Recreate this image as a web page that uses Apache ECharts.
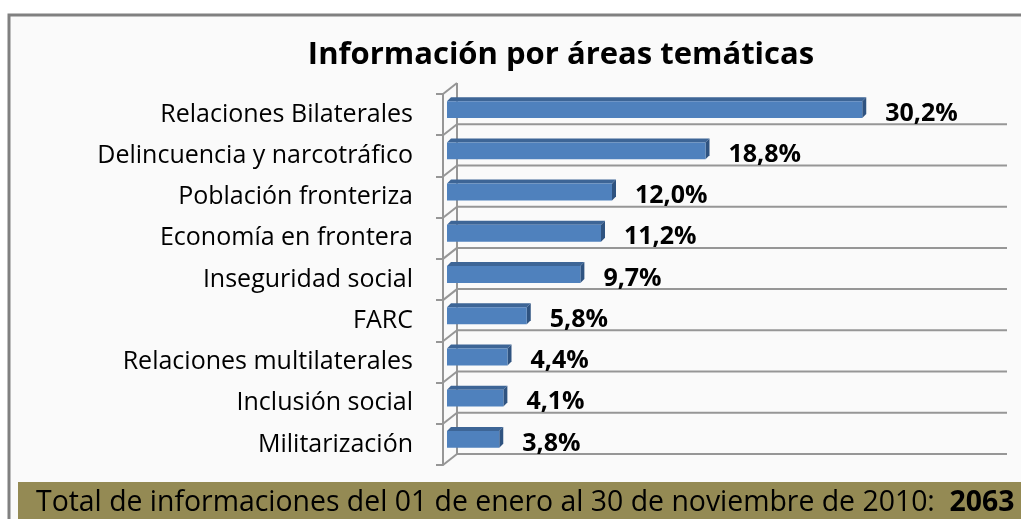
<!DOCTYPE html>
<html>
<head>
<meta charset="utf-8">
<script src="https://cdn.jsdelivr.net/npm/echarts@6/dist/echarts.min.js"></script>
<style>html,body{margin:0;padding:0;background:#fff}#c{width:1021px;height:519px}</style>
</head>
<body>
<div id="c"></div>
<script>
const categories = ['Relaciones Bilaterales', 'Delincuencia y narcotráfico', 'Población fronteriza', 'Economía en frontera', 'Inseguridad social', 'FARC', 'Relaciones multilaterales', 'Inclusión social', 'Militarización'];
const values = [30.2, 18.8, 12.0, 11.2, 9.7, 5.8, 4.4, 4.1, 3.8];
const axisMax = 40;
const titleText = 'Información por áreas temáticas';
const footerText = 'Total de informaciones del 01 de enero al 30 de noviembre de 2010:';
const footerTotal = '2063';

const FONT = '"Open Sans"';
const WALL_DX = 14, WALL_DY = -11;   // back wall offset from front plane
const BAR_DX = 4, BAR_DY = -5;       // bar front face offset from front plane
const DEP_X = 4, DEP_Y = -4;         // bar depth
const LINE = '#969696';

const fmt = v => v.toFixed(1).replace('.', ',') + '%';

const chart = echarts.init(document.getElementById('c'), null, {renderer: 'canvas'});

function renderWalls(params, api) {
  const band = api.size([0, 1])[1];
  const c0 = api.coord([0, 0]);
  const cMax = api.coord([axisMax, 0]);
  const fx = c0[0];
  const top = c0[1] - band / 2;
  const n = categories.length;
  const children = [];
  const bx = fx + WALL_DX;
  children.push({type: 'line', shape: {x1: bx, y1: top + WALL_DY, x2: bx, y2: top + n * band + WALL_DY}, style: {stroke: LINE, lineWidth: 2}});
  for (let k = 0; k <= n; k++) {
    const fy = top + k * band;
    children.push({type: 'line', shape: {x1: fx, y1: fy, x2: bx, y2: fy + WALL_DY}, style: {stroke: LINE, lineWidth: 2}});
    if (k > 0) {
      children.push({type: 'line', shape: {x1: bx, y1: fy + WALL_DY, x2: cMax[0] + WALL_DX, y2: fy + WALL_DY}, style: {stroke: LINE, lineWidth: 2}});
    }
  }
  return {type: 'group', children};
}

function renderBar(params, api) {
  const idx = api.value(0);
  const val = api.value(1);
  const band = api.size([0, 1])[1];
  const p0 = api.coord([0, idx]);
  const p1 = api.coord([val, idx]);
  const h = band * 0.41;
  const x0 = p0[0] + BAR_DX, x1 = p1[0] + BAR_DX;
  const yc = p0[1] + BAR_DY;
  const t = yc - h / 2, b = yc + h / 2;
  return {
    type: 'group',
    children: [
      {type: 'polygon', shape: {points: [[x0, t], [x1, t], [x1 + DEP_X, t + DEP_Y], [x0 + DEP_X, t + DEP_Y]]}, style: {fill: '#3d6596'}},
      {type: 'polygon', shape: {points: [[x1, t], [x1 + DEP_X, t + DEP_Y], [x1 + DEP_X, b + DEP_Y], [x1, b]]}, style: {fill: '#2f5380'}},
      {type: 'rect', shape: {x: x0, y: t, width: x1 - x0, height: h}, style: {fill: '#4f81bd'}},
      {type: 'text', x: x1 + DEP_X + 19, y: yc + 4, style: {text: fmt(val), fill: '#000', font: 'bold 25px ' + FONT, textAlign: 'left', textVerticalAlign: 'middle'}}
    ]
  };
}

chart.setOption({
  backgroundColor: '#ffffff',
  animation: false,
  title: {
    text: titleText, left: 556, top: 35, textAlign: 'center',
    textStyle: {fontFamily: FONT, fontWeight: 'bold', fontSize: 31, color: '#000'}
  },
  graphic: [
    {type: 'rect', z: -10, shape: {x: 9, y: 15, width: 1100, height: 600}, style: {fill: '#fafafa', stroke: '#808080', lineWidth: 3}},
    {type: 'rect', z: -5, shape: {x: 18, y: 482, width: 1010, height: 40}, style: {fill: '#948a54'}},
    {type: 'text', z: -4, x: 36, y: 503, style: {
      text: '{a|' + footerText + '  }{b|' + footerTotal + '}',
      textVerticalAlign: 'middle',
      rich: {
        a: {fontFamily: FONT, fontSize: 28.4, fill: '#000', color: '#000'},
        b: {fontFamily: FONT, fontSize: 28.4, fontWeight: 'bold', fill: '#000', color: '#000'}
      }
    }}
  ],
  grid: {left: 443, top: 94, right: 28, bottom: 54, containLabel: false},
  xAxis: {type: 'value', min: 0, max: axisMax, show: false, splitLine: {show: false}},
  yAxis: {
    type: 'category', data: categories, inverse: true,
    axisLine: {show: true, lineStyle: {color: LINE, width: 2}},
    axisTick: {show: true, length: 7, lineStyle: {color: LINE, width: 2}},
    axisLabel: {margin: 30, fontFamily: FONT, fontSize: 25, color: '#000', padding: [6, 0, 0, 0]},
    splitLine: {show: false}
  },
  series: [
    {type: 'custom', renderItem: renderWalls, data: [[0, 0]], clip: false, silent: true, z: 1},
    {type: 'custom', renderItem: renderBar, data: values.map((v, i) => [i, v]), encode: {y: 0, x: 1}, clip: false, z: 3}
  ]
});
</script>
</body>
</html>
